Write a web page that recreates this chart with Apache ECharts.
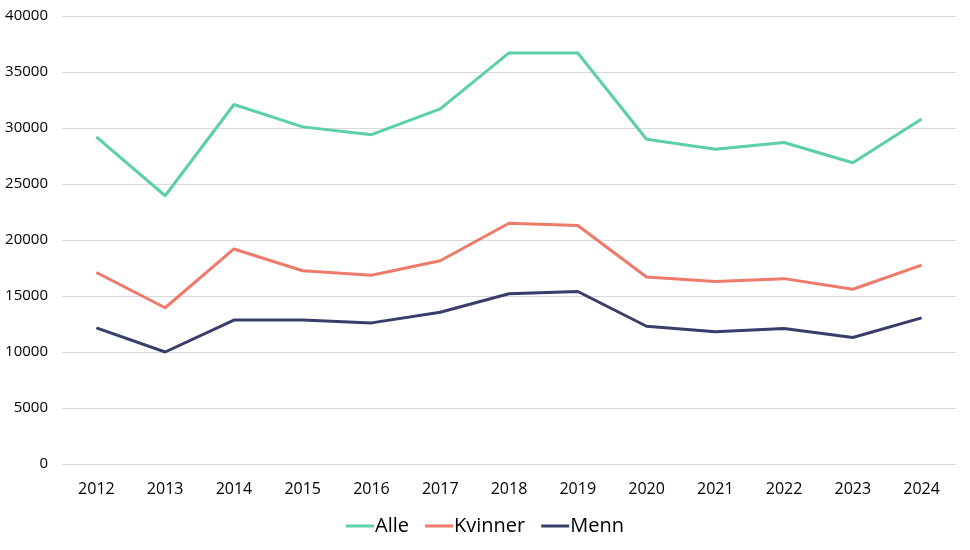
<!DOCTYPE html>
<html style="height: 100%">

<head>
  <meta charset="utf-8">
</head>

<body style="height: 100%; margin: 0; background: #fff">
  <div id="container" style="width: 970px; height: 550px"></div>
  <script type="text/javascript" src="https://cdn.jsdelivr.net/npm/echarts@6/dist/echarts.min.js"></script>
  <script type="text/javascript">
    var years = ['2012', '2013', '2014', '2015', '2016', '2017', '2018', '2019', '2020', '2021', '2022', '2023', '2024'];
    var alle = [29200, 23950, 32100, 30100, 29400, 31700, 36700, 36700, 29000, 28100, 28700, 26900, 30800];
    var kvinner = [17100, 13950, 19200, 17250, 16850, 18150, 21500, 21300, 16700, 16300, 16550, 15600, 17750];
    var menn = [12150, 10000, 12850, 12850, 12600, 13550, 15200, 15400, 12300, 11800, 12100, 11300, 13050];

    var font = '"Open Sans", sans-serif';
    var dom = document.getElementById("container");
    var myChart = echarts.init(dom);

    function line(name, data, color) {
      return {
        name: name,
        type: 'line',
        data: data,
        symbol: 'none',
        lineStyle: { color: color, width: 3 },
        itemStyle: { color: color },
        animation: false
      };
    }

    var option = {
      textStyle: { fontFamily: font },
      grid: { left: 62, right: 14, top: 16, bottom: 86 },
      legend: {
        bottom: 9,
        left: 'center',
        icon: 'rect',
        itemWidth: 28,
        itemHeight: 3,
        itemGap: 16,
        textStyle: { fontFamily: font, fontSize: 20, color: '#000', padding: [0, 0, 0, -4] },
        data: ['Alle', 'Kvinner', 'Menn']
      },
      xAxis: {
        type: 'category',
        data: years,
        boundaryGap: true,
        axisLine: { show: false },
        axisTick: { show: false },
        axisLabel: { fontFamily: font, fontSize: 16, color: '#000', margin: 17 }
      },
      yAxis: {
        type: 'value',
        min: 0,
        max: 40000,
        interval: 5000,
        axisLine: { show: false },
        axisTick: { show: false },
        axisLabel: {
          fontFamily: font, fontSize: 15, color: '#000', margin: 14,
          formatter: function (v) { return String(v); }
        },
        splitLine: { lineStyle: { color: '#d9d9d9', width: 1 } }
      },
      series: [
        line('Alle', alle, '#5ccfa8'),
        line('Kvinner', kvinner, '#ee7a6a'),
        line('Menn', menn, '#393d6b')
      ]
    };
    myChart.setOption(option);
  </script>
</body>

</html>
